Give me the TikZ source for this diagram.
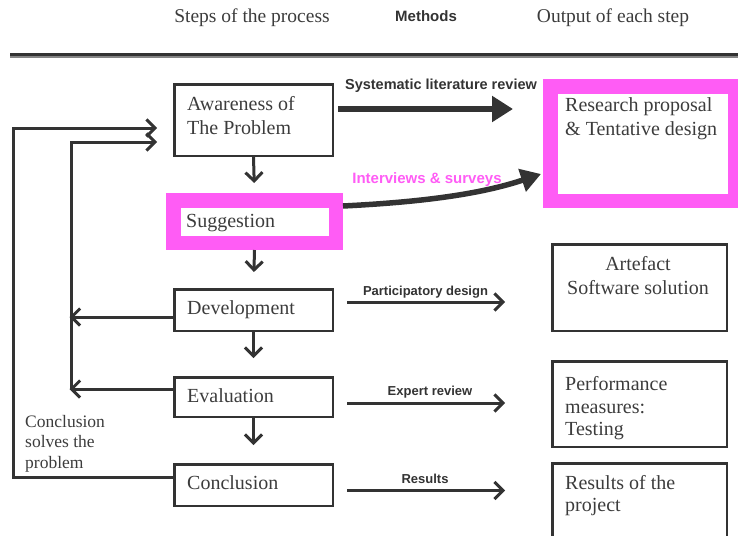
\documentclass[tikz,border=0pt]{standalone}
\usepackage{fontspec}
\setmainfont{Liberation Serif}
\setsansfont{Liberation Sans}
\usetikzlibrary{arrows.meta}
\definecolor{ink}{HTML}{333333}
\definecolor{txtgrey}{HTML}{3C3C3C}
\definecolor{pinkm}{HTML}{FF5CF5}
\begin{document}
\begin{tikzpicture}[x=1pt,y=-1pt,
  box/.style={draw=ink, line width=2.5pt, inner sep=0pt},
  pinkbox/.style={draw=pinkm, line width=14.5pt, inner sep=0pt},
  boxtext/.style={inner sep=0pt, text=txtgrey, align=left,
    font=\fontsize{20}{23.5}\selectfont},
  headtext/.style={inner sep=0pt, text=txtgrey, font=\fontsize{19.5}{22}\selectfont},
  methodlabel/.style={inner sep=0pt, text=ink, font=\sffamily\bfseries\fontsize{13}{15}\selectfont},
  bigflow/.style={draw=ink, line width=5.5pt, -{Triangle[length=21pt,width=25pt]}},
  barb/.style={-{Straight Barb[length=8.5pt,width=17pt]}},
  flow/.style={draw=ink, line width=3pt, barb},
  loopline/.style={draw=ink, line width=3pt, line join=miter, barb},
]
\useasboundingbox (0,0) rectangle (738,535);
\clip (0,0) rectangle (738,535);

% column headings and rule
\node[headtext, anchor=base] (hsteps) at (252,22.5) {Steps of the process};
\node[methodlabel, anchor=base, font=\sffamily\bfseries\fontsize{15}{17}\selectfont] (hmeth) at (426,21.5) {Methods};
\node[headtext, anchor=base] (hout) at (613,22.5) {Output of each step};
\draw[ink!60, line width=2pt] (10,57.5) -- (738,57.5);
\draw[ink, line width=3pt] (10,55) -- (738,55);

% process steps
\node[box, minimum width=158.5, minimum height=71.5] (aware) at (253.5,120) {};
\node[boxtext, anchor=north west] (awaret) at (187,96.3) {Awareness of\\The Problem};

\node[pinkbox, minimum width=162.5, minimum height=42.5] (sugg) at (254.5,221.5) {};
\node[boxtext, anchor=base west] (suggt) at (186,227) {Suggestion};

\node[box, minimum width=158.5, minimum height=41.5] (dev) at (253.5,310) {};
\node[boxtext, anchor=base west] (devt) at (187,314.5) {Development};

\node[box, minimum width=158.5, minimum height=39.5] (eval) at (253.5,397) {};
\node[boxtext, anchor=base west] (evalt) at (187,402) {Evaluation};

\node[box, minimum width=158.5, minimum height=41.5] (concl) at (253.5,485) {};
\node[boxtext, anchor=base west] (conclt) at (187,489) {Conclusion};

% outputs
\node[pinkbox, minimum width=185, minimum height=114.5] (research) at (642.75,143.5) {};
\node[boxtext, anchor=north west] (researcht) at (565,97.5) {Research proposal\\\& Tentative design};

\node[box, minimum width=174.5, minimum height=86.5] (artefact) at (639.5,287.5) {};
\node[boxtext, anchor=north, align=center] (artefactt) at (638,256.5) {Artefact\\Software solution};

\node[box, minimum width=174.5, minimum height=85.5] (perf) at (639.5,404) {};
\node[boxtext, anchor=north west, font=\fontsize{20}{22.5}\selectfont] (perft) at (565,376.5) {Performance\\measures:\\Testing};

\node[box, minimum width=174.5, minimum height=80] (results) at (639.5,503.25) {};
\node[boxtext, anchor=north west, font=\fontsize{20}{22}\selectfont] (resultst) at (565,475.5) {Results of the\\project};

% feedback note
\node[inner sep=0pt, text=txtgrey, align=left, anchor=north west,
  font=\fontsize{17.5}{20.5}\selectfont] (note) at (25,415) {Conclusion\\solves the\\problem};

% downward flow between steps
\draw[flow, shorten >=10pt] (aware.south) -- (sugg.north);
\draw[flow, shorten >=16pt] (sugg.south) -- (dev.north);
\draw[flow, shorten >=18pt] (dev.south) -- (eval.north);
\draw[flow, shorten >=18pt] (eval.south) -- (concl.north);

% methods leading to outputs
\coordinate (m1) at ([xshift=4pt,yshift=11pt]aware.east);
\draw[bigflow, shorten >=30pt] (m1) -- (research.west |- m1);
\node[methodlabel, font=\sffamily\bfseries\fontsize{14.5}{16}\selectfont] (m1t) at (441,86) {Systematic literature review};

\coordinate (m2) at ([yshift=15.5pt]sugg.east);
\coordinate (m2e) at ([xshift=-2pt,yshift=-30.5pt]research.west);
\draw[bigflow, -{Triangle[length=20pt,width=23pt]}] (m2) .. controls +(80,-4) and +(-60,20) .. (m2e);
\node[methodlabel, text=pinkm, font=\sffamily\bfseries\fontsize{15}{17}\selectfont] (m2t) at (427,180) {Interviews \& surveys};

\coordinate (m3) at ([xshift=13pt,yshift=8pt]dev.east);
\draw[flow, shorten >=46pt] (m3) -- (artefact.west |- m3);
\node[methodlabel] (m3t) at (425.5,292) {Participatory design};

\coordinate (m4) at ([xshift=13pt,yshift=-6pt]eval.east);
\draw[flow, shorten >=46pt] (m4) -- (perf.west |- m4);
\node[methodlabel] (m4t) at (430,392) {Expert review};

\coordinate (m5) at ([xshift=13pt,yshift=-5.5pt]concl.east);
\draw[flow, shorten >=46pt] (m5) -- (results.west |- m5);
\node[methodlabel] (m5t) at (425,479) {Results};

% iteration loops back to the first step
\coordinate (outerL) at (13,128);
\draw[loopline, shorten >=16pt]
  ([yshift=8pt]concl.west) -| (outerL) -- ([yshift=-8pt]aware.west);

\coordinate (innerB) at (71,389);
\coordinate (innerT) at (71,142);
\draw[loopline, shorten >=16pt]
  (innerB) -- (innerT) -- ([yshift=-22pt]aware.west);
\coordinate (devL) at ([yshift=-7pt]dev.west);
\draw[flow, shorten >=-1.5pt] (devL) -- (devL -| innerB);
\coordinate (evalL) at ([yshift=8pt]eval.west);
\draw[flow, shorten >=-1.5pt] (evalL) -- (evalL -| innerB);
\end{tikzpicture}
\end{document}
